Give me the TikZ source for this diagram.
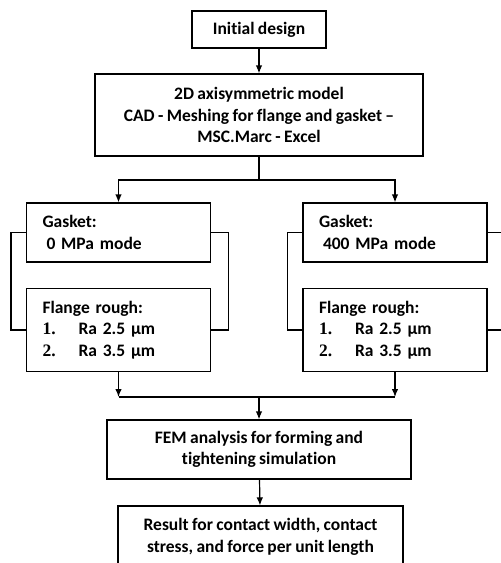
\documentclass[tikz,border=0pt]{standalone}
\usepackage{fontspec}
\setmainfont{Carlito}[Ligatures=NoCommon,WordSpace=0.85]
\newfontfamily\numfont{Liberation Serif}
\usetikzlibrary{arrows.meta}

\begin{document}
\begin{tikzpicture}[x=1pt,y=-1pt,>={Latex[length=8pt,width=6.5pt]},
        every node/.style={font=\fontsize{17.5}{21.5}\selectfont\bfseries},
        box/.style={draw,line width=1.2pt,inner sep=0pt,align=center},
        line/.style={line width=1.2pt}]
        \useasboundingbox (0,0) rectangle (501,563);
        % top boxes
        \node[box,minimum width=134pt,minimum height=37pt] (init) at (259,29.5) {Initial design};
        \node[box,minimum width=328pt,minimum height=82pt] (model) at (259,115)
                {2D axisymmetric model\\CAD - Meshing for flange and gasket –\\MSC.Marc - Excel};
        \draw[line,->] (init) -- (model);
        % the two gasket columns
        \foreach \i/\cx/\mpa in {0/118.5/0, 1/395/400} {
                \node[box,align=left,text width=152pt,inner xsep=16pt,minimum height=59pt]
                        (gasket\i) at (\cx,232.5) {Gasket:\\\hspace*{4pt}\mpa{} MPa mode};
                \node[box,align=left,text width=152pt,inner xsep=16pt,minimum height=83pt]
                        (flange\i) at (\cx,330) {Flange rough:\\
                        \makebox[36pt][l]{\numfont 1.}Ra 2.5 µm\\
                        \makebox[36pt][l]{\numfont 2.}Ra 3.5 µm};
                % side loops between gasket and flange
                \draw[line] (gasket\i.west) -- ++(-15,0) |- (flange\i.west);
                \draw[line] (gasket\i.east) -- ++(17,0) |- (flange\i.east);
        }
        % split after the model
        \coordinate (split) at (259,180);
        \draw[line] (model) -- (split);
        \draw[line,->] (split) -| (gasket0);
        \draw[line,->] (split) -| (gasket1);
        % bottom boxes
        \node[box,minimum width=304pt,minimum height=59pt] (fem) at (259,449.5)
                {FEM analysis for forming and\\tightening simulation};
        \node[box,minimum width=285pt,minimum height=62pt] (result) at (260.5,537)
                {Result for contact width, contact\\stress, and force per unit length};
        % join of the two columns
        \coordinate (join) at (259,397);
        \foreach \i in {0,1}
                \draw[line,->] (flange\i) -- (flange\i.south |- join);
        \draw[line] (flange0.south |- join) -- (flange1.south |- join);
        \draw[line,->] (join) -- (fem);
        \draw[line,->] (fem) -- (result);
\end{tikzpicture}
\end{document}
